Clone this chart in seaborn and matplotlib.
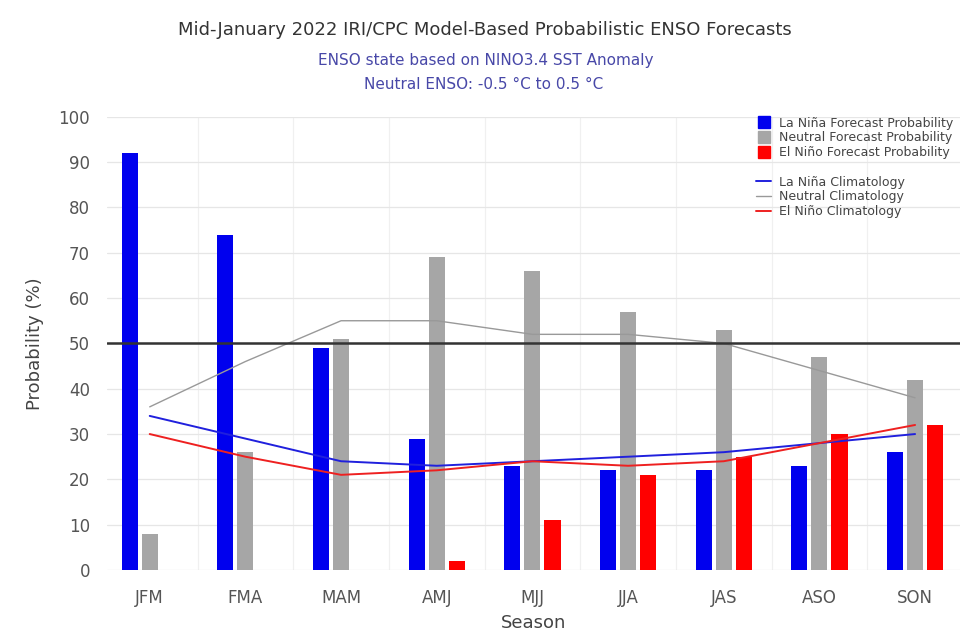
import numpy as np
import pandas as pd
import seaborn as sns
import matplotlib.pyplot as plt
from matplotlib.lines import Line2D

seasons = ['JFM', 'FMA', 'MAM', 'AMJ', 'MJJ', 'JJA', 'JAS', 'ASO', 'SON']
lanina_prob = [92, 74, 49, 29, 23, 22, 22, 23, 26]
neutral_prob = [8, 26, 51, 69, 66, 57, 53, 47, 42]
elnino_prob = [0, 0, 0, 2, 11, 21, 25, 30, 32]
lanina_clim = [34, 29, 24, 23, 24, 25, 26, 28, 30]
neutral_clim = [36, 46, 55, 55, 52, 52, 50, 44, 38]
elnino_clim = [30, 25, 21, 22, 24, 23, 24, 28, 32]

kinds = ['La Niña Forecast Probability', 'Neutral Forecast Probability',
         'El Niño Forecast Probability']
df = pd.DataFrame({
    'Season': seasons * 3,
    'Probability': lanina_prob + neutral_prob + elnino_prob,
    'Kind': [kinds[0]] * 9 + [kinds[1]] * 9 + [kinds[2]] * 9,
})

blue = '#0000ee'
grey = '#a6a6a6'
red = '#ff0000'

sns.set_theme(style='white')
plt.rcParams['font.family'] = ['DejaVu Sans']

fig = plt.figure(figsize=(9.61, 6.33), dpi=100)
ax = fig.add_axes([0.111, 0.0995, 0.888, 0.716])

sns.barplot(data=df, x='Season', y='Probability', hue='Kind',
            palette=[blue, grey, red], width=0.63, gap=0.2, linewidth=0,
            saturation=1, legend=False, ax=ax, zorder=3)

pos = np.arange(len(seasons))
sns.lineplot(x=pos, y=neutral_clim, color='#999999', lw=1.0, ax=ax, zorder=4)
sns.lineplot(x=pos, y=lanina_clim, color='#2020dd', lw=1.4, ax=ax, zorder=4)
sns.lineplot(x=pos, y=elnino_clim, color='#ee2020', lw=1.4, ax=ax, zorder=4)

ax.axhline(50, color='#333333', lw=1.8, zorder=5)

ax.set_ylim(0, 100)
ax.set_xlim(-0.45, 8.47)
ax.set_yticks(range(0, 101, 10))
ax.set_xticks(pos)
ax.set_xticklabels(seasons)
ax.set_xticks(pos[:-1] + 0.5, minor=True)
ax.grid(axis='y', which='major', color='#e6e6e6', lw=0.9, zorder=0)
ax.grid(axis='x', which='minor', color='#f0f0f0', lw=0.9, zorder=0)
ax.tick_params(axis='both', length=0, labelsize=12, labelcolor='#555555')
ax.tick_params(axis='x', pad=14)
ax.tick_params(axis='y', pad=12)
for s in ax.spines.values():
    s.set_visible(False)

ax.set_xlabel('Season', fontsize=13, color='#444444', labelpad=5)
ax.set_ylabel('Probability (%)', fontsize=13, color='#444444', labelpad=10)

fig.text(0.505, 0.952, 'Mid-January 2022 IRI/CPC Model-Based Probabilistic ENSO Forecasts',
         ha='center', va='center', fontsize=13, color='#333333')
fig.text(0.505, 0.905, 'ENSO state based on NINO3.4 SST Anomaly',
         ha='center', va='center', fontsize=11, color='#4848a8')
fig.text(0.503, 0.866, 'Neutral ENSO: -0.5 °C to 0.5 °C',
         ha='center', va='center', fontsize=11, color='#4848a8')

handles = [
    Line2D([], [], marker='s', ls='none', color=blue, markersize=8),
    Line2D([], [], marker='s', ls='none', color=grey, markersize=8),
    Line2D([], [], marker='s', ls='none', color=red, markersize=8),
    Line2D([], [], color='none'),
    Line2D([], [], color='#2020dd', lw=1.4),
    Line2D([], [], color='#999999', lw=1.0),
    Line2D([], [], color='#ee2020', lw=1.4),
]
labels = kinds + ['', 'La Niña Climatology', 'Neutral Climatology',
                  'El Niño Climatology']
ax.legend(handles, labels, loc='upper right', bbox_to_anchor=(1.005, 1.025),
          frameon=False, fontsize=9, handlelength=1.2, handletextpad=0.6,
          labelspacing=0.14, labelcolor='#444444')

fig.savefig('out.png', dpi=100)
